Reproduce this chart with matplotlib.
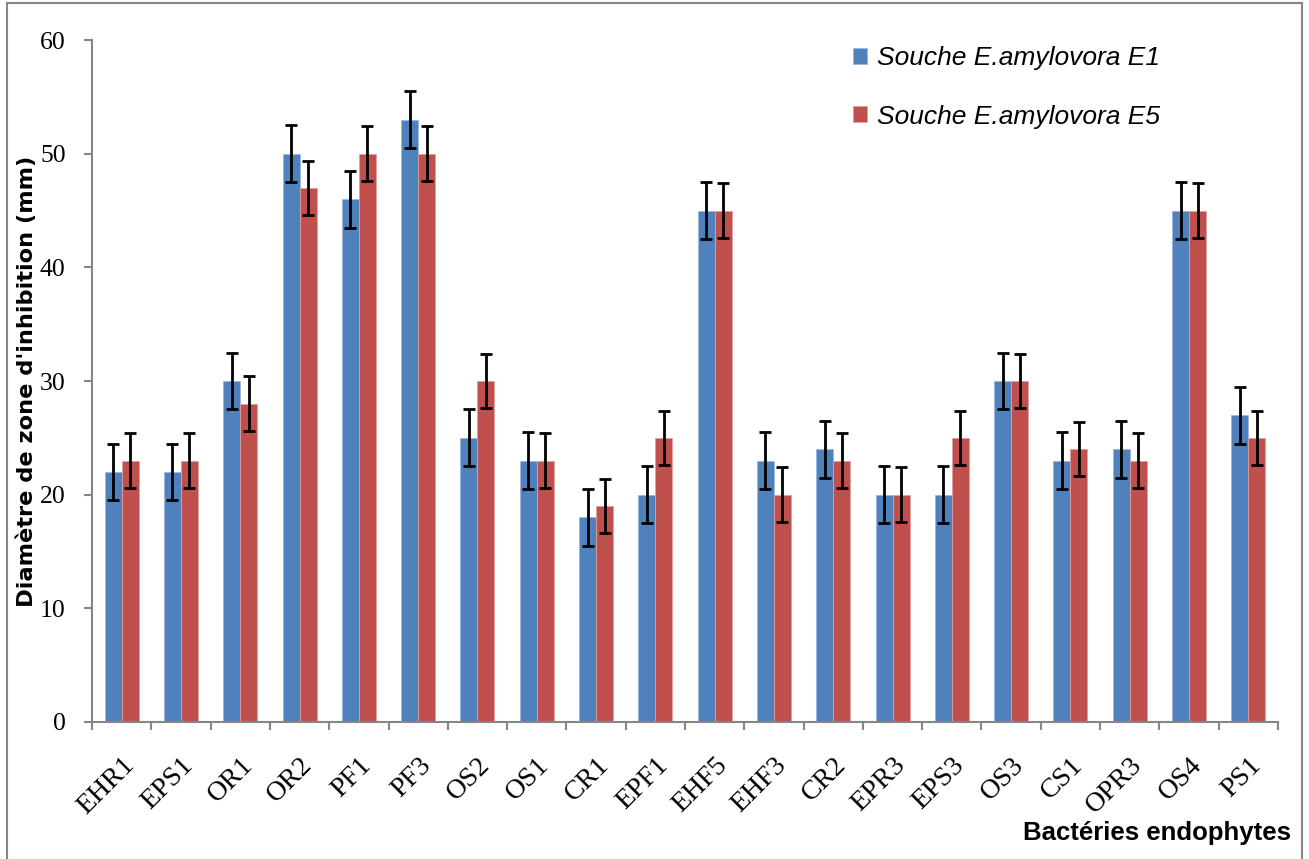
""" Diamètre de zone d'inhibition des bactéries endophytes """
import matplotlib
matplotlib.use("Agg")
import matplotlib.pyplot as plt
from matplotlib.patches import Rectangle
import numpy as np

souches = ["EHR1", "EPS1", "OR1", "OR2", "PF1", "PF3", "OS2", "OS1", "CR1", "EPF1",
           "EHF5", "EHF3", "CR2", "EPR3", "EPS3", "OS3", "CS1", "OPR3", "OS4", "PS1"]
zone_e1 = [22, 22, 30, 50, 46, 53, 25, 23, 18, 20, 45, 23, 24, 20, 20, 30, 23, 24, 45, 27]
zone_e5 = [23, 23, 28, 47, 50, 50, 30, 23, 19, 25, 45, 20, 23, 20, 25, 30, 24, 23, 45, 25]
erreur_e1 = [2.5] * len(souches)
erreur_e5 = [2.4] * len(souches)

bleu = "#4F81BD"
rouge = "#C0504D"
gris = "#868686"

fig = plt.figure(figsize=(13.09, 8.59), dpi=100)
ax = fig.add_axes([0.0703, 0.1595, 0.906, 0.7939])

x = np.arange(len(souches))
larg = 0.287
err_style = dict(ecolor="black", elinewidth=2, capsize=4.5, capthick=2)
ax.bar(x - larg / 2, zone_e1, larg, color=bleu, edgecolor="#9DB7DD", linewidth=0.6,
       yerr=erreur_e1, error_kw=err_style, label="Souche E.amylovora E1")
ax.bar(x + larg / 2, zone_e5, larg, color=rouge, edgecolor="#E0A09E", linewidth=0.6,
       yerr=erreur_e5, error_kw=err_style, label="Souche E.amylovora E5")

ax.set_xlim(-0.5, len(souches) - 0.5)
ax.set_ylim(0, 60)
ax.set_yticks(range(0, 61, 10))

# libellés au centre des groupes, traits de graduation entre les groupes
ax.set_xticks(x)
ax.set_xticklabels(souches, rotation=45, ha="right", rotation_mode="anchor",
                   family="Liberation Serif", fontsize=20)
ax.set_xticks(np.arange(-0.5, len(souches)), minor=True)
ax.tick_params(axis="x", which="major", length=0, pad=22)
ax.tick_params(axis="x", which="minor", length=6, width=1.5, color=gris, direction="out")
ax.tick_params(axis="y", length=6, width=1.5, color=gris, direction="out", pad=13)
for lab in ax.get_yticklabels():
    lab.set_family("Liberation Serif")
    lab.set_fontsize(18.5)

for cote in ["top", "right"]:
    ax.spines[cote].set_visible(False)
for cote in ["left", "bottom"]:
    ax.spines[cote].set_color(gris)
    ax.spines[cote].set_linewidth(1.5)

fig.text(0.0206, 0.5565, "Diamètre de zone d'inhibition (mm)", rotation=90,
         ha="center", va="center", family="DejaVu Sans", weight="bold", fontsize=16.2)
fig.text(0.986, 0.030, "Bactéries endophytes", ha="right", va="center",
         family="Liberation Sans", weight="bold", fontsize=18.5)

ax.legend(loc="upper left", bbox_to_anchor=(0.6516, 0.946), bbox_transform=fig.transFigure,
          frameon=False, borderpad=0, borderaxespad=0,
          prop={"family": "Liberation Sans", "style": "italic", "size": 19},
          handlelength=0.55, handleheight=0.55, handletextpad=0.35, labelspacing=1.3)

# cadre gris autour de la figure
fig.patches.append(Rectangle((0.0053, -0.05), 0.989, 1.0468, transform=fig.transFigure,
                             fill=False, edgecolor=gris, linewidth=1.5))

fig.savefig("out.png", dpi=100)
